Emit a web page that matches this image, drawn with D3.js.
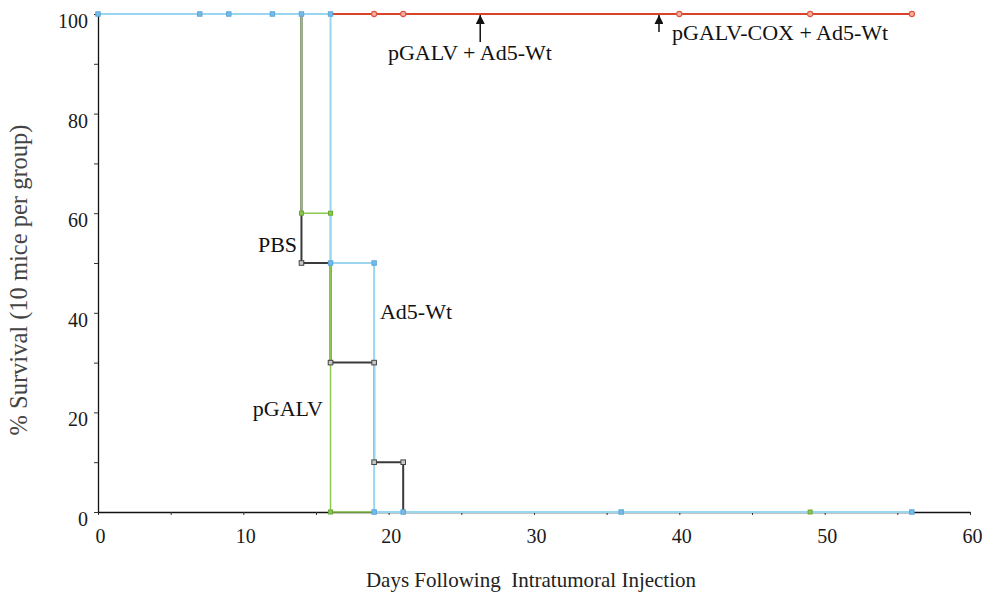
<!DOCTYPE html>
<html><head><meta charset="utf-8">
<script src="https://cdn.jsdelivr.net/npm/d3@7"></script>
<style>
body{margin:0;background:#fff;}
svg text{font-family:"Liberation Serif","Times New Roman",serif !important;}
</style></head>
<body><svg id="c" width="996" height="595"></svg>
<script>
// ---- data ----
const xTickLabels = [0, 10, 20, 30, 40, 50, 60];
const yTickLabels = [0, 20, 40, 60, 80, 100];

// Kaplan-Meier steps (day, % survival)
const comboDays = [0, 56];            // pGALV + Ad5-Wt and pGALV-COX + Ad5-Wt
const comboSurv = [100, 100];
const comboMarkDays = [19, 21, 40, 49, 56];
const comboMarkSurv = [100, 100, 100, 100, 100];

const pbsDays = [0, 14, 16, 19, 21];
const pbsSurv = [100, 50, 30, 10, 0];
const pbsMarkDays = [14, 16, 19, 19, 21];
const pbsMarkSurv = [50, 30, 30, 10, 10];

const pgalvDays = [0, 14, 16, 49];
const pgalvSurv = [100, 60, 0, 0];
const pgalvMarkDays = [14, 16, 16, 49];
const pgalvMarkSurv = [60, 60, 0, 0];

const ad5Days = [0, 16, 19, 56];
const ad5Surv = [100, 50, 0, 0];
const ad5MarkDays = [0, 7, 9, 12, 14, 16, 16, 19, 19, 21, 36, 56];
const ad5MarkSurv = [100, 100, 100, 100, 100, 100, 50, 50, 0, 0, 0, 0];

// annotations
const arrowDays = [26.3, 38.6];
const arrowTailSurv = [94.4, 96.4];
const labelTexts = ["pGALV + Ad5-Wt", "pGALV-COX + Ad5-Wt", "PBS", "Ad5-Wt", "pGALV"];
const labelDays = [19.95, 39.5, 13.7, 19.4, 10.65];
const labelSurv = [90.8, 94.8, 52.2, 38.8, 19.3];
const labelAnchor = ["start", "start", "end", "start", "start"];

// ---- chart ----
const svg = d3.select("#c");
const x = d3.scaleLinear().domain([0, 60]).range([98, 970]);
const y = d3.scaleLinear().domain([0, 100]).range([512, 14]);
const serif = "'Liberation Serif', 'Times New Roman', serif";

// axes
const xAxis = d3.axisBottom(x).tickValues(d3.range(0, 61, 5))
  .tickFormat(d => xTickLabels.includes(d) ? d : "").tickSize(3).tickSizeOuter(0);
const gx = svg.append("g").attr("transform", `translate(0,${y(0)})`).call(xAxis)
  .attr("font-family", null).attr("font-size", null);
gx.selectAll("text").attr("y", 31).attr("dy", 0).attr("dx", 2)
  .style("font-size", "20px").style("font-family", serif).attr("fill", "#1a1a1a");
gx.select(".domain").attr("stroke", "#111").attr("stroke-width", 1.3);
gx.selectAll(".tick line").attr("stroke", "#333");

const yAxis = d3.axisLeft(y).tickValues(d3.range(0, 101, 10))
  .tickFormat(d => yTickLabels.includes(d) ? d : "").tickSize(4).tickSizeOuter(0);
const gy = svg.append("g").attr("transform", `translate(${x(0)},0)`).call(yAxis)
  .attr("font-family", null).attr("font-size", null);
gy.selectAll("text").attr("x", -10).attr("dy", "0.32em").attr("y", 7)
  .style("font-size", "20px").style("font-family", serif).attr("fill", "#1a1a1a");
gy.select(".domain").attr("stroke", "#111").attr("stroke-width", 1.3);
gy.selectAll(".tick line").attr("stroke", "#333");

// axis titles
svg.append("text").attr("x", 531).attr("y", 587).attr("text-anchor", "middle")
  .style("font-size", "21px").attr("fill", "#222").text("Days Following\u00a0 Intratumoral Injection");
svg.append("text").attr("transform", "translate(27,280) rotate(-90)").attr("text-anchor", "middle")
  .style("font-size", "24.5px").attr("fill", "#444").text("% Survival (10 mice per group)");

const line = d3.line().x(d => x(d[0])).y(d => y(d[1])).curve(d3.curveStepAfter);
function series(days, surv, color, w) {
  svg.append("path").datum(days.map((d, i) => [d, surv[i]]))
    .attr("d", line).attr("fill", "none").attr("stroke", color).attr("stroke-width", w);
}
function marks(days, surv, stroke, fill, shape, s) {
  const pts = days.map((d, i) => [d, surv[i]]);
  if (shape === "circle") {
    svg.append("g").selectAll("circle").data(pts).join("circle")
      .attr("cx", d => x(d[0])).attr("cy", d => y(d[1])).attr("r", s)
      .attr("fill", fill).attr("stroke", stroke).attr("stroke-width", 1.1);
  } else {
    svg.append("g").selectAll("rect").data(pts).join("rect")
      .attr("x", d => x(d[0]) - s).attr("y", d => y(d[1]) - s).attr("width", 2 * s).attr("height", 2 * s)
      .attr("fill", fill).attr("stroke", stroke).attr("stroke-width", 1);
  }
}

const cRed = "#d8432a", cBlack = "#3a3a3a", cGreen = "#8cc84b", cBlue = "#9ad6f0";
series(comboDays, comboSurv, cRed, 2);
series(pbsDays, pbsSurv, cBlack, 2);
series(pgalvDays, pgalvSurv, cGreen, 1.5);
series(ad5Days, ad5Surv, cBlue, 2);

marks(comboMarkDays, comboMarkSurv, "#e0553f", "#f6b0a4", "circle", 2.6);
marks(pbsMarkDays, pbsMarkSurv, "#444", "#c8c8c8", "rect", 2.3);
marks(pgalvMarkDays, pgalvMarkSurv, "#6aa83a", "#8cc84b", "rect", 2);
marks(ad5MarkDays, ad5MarkSurv, "#5aa6da", "#78bce6", "rect", 2.2);

// arrows
svg.append("defs").append("marker").attr("id", "ah").attr("viewBox", "0 0 10 10")
  .attr("refX", 10).attr("refY", 5).attr("markerWidth", 9).attr("markerHeight", 9)
  .attr("markerUnits", "userSpaceOnUse").attr("orient", "auto")
  .append("path").attr("d", "M0,0 L10,5 L0,10 z").attr("fill", "#111");
svg.append("g").selectAll("line").data(arrowDays).join("line")
  .attr("x1", d => x(d)).attr("x2", d => x(d))
  .attr("y1", (d, i) => y(arrowTailSurv[i])).attr("y2", y(100) + 1)
  .attr("stroke", "#111").attr("stroke-width", 1.5).attr("marker-end", "url(#ah)");

// labels
svg.append("g").selectAll("text").data(labelTexts).join("text")
  .attr("x", (d, i) => x(labelDays[i])).attr("y", (d, i) => y(labelSurv[i]))
  .attr("text-anchor", (d, i) => labelAnchor[i])
  .style("font-size", "22px").attr("fill", "#111").text(d => d);
</script></body></html>
